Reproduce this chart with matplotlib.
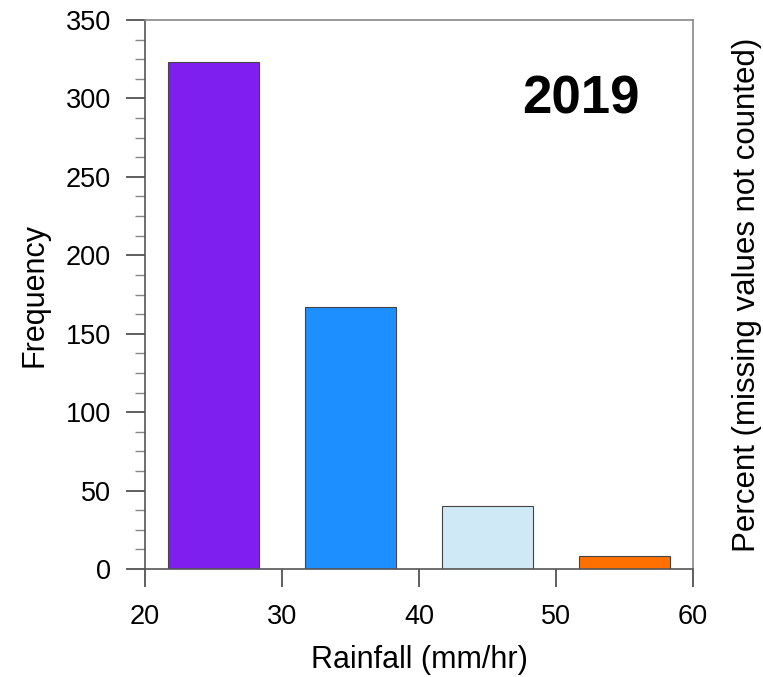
import matplotlib
matplotlib.use("Agg")
import matplotlib.pyplot as plt
from matplotlib.ticker import MultipleLocator

plt.rcParams['font.family'] = ['Liberation Sans', 'DejaVu Sans']

bin_centers = [25, 35, 45, 55]
frequency = [323, 167, 40, 8]
colors = ['#7F1FEF', '#1E8FFF', '#D0E9F6', '#FF7000']
year_label = "2019"

fig = plt.figure(figsize=(7.63, 6.77), dpi=100)
ax = fig.add_axes([145/763, 1-569/677, (693-145)/763, (569-20)/677])

ax.bar(bin_centers, frequency, width=6.67, color=colors, edgecolor='#444444', linewidth=0.8, zorder=2)

ax.set_xlim(20, 60)
ax.set_ylim(0, 350)
ax.xaxis.set_major_locator(MultipleLocator(10))
ax.yaxis.set_major_locator(MultipleLocator(50))
ax.yaxis.set_minor_locator(MultipleLocator(12.5))

gray = '#888888'
for s in ax.spines.values():
    s.set_color(gray)
    s.set_linewidth(1.2)
ax.spines['left'].set_color('#555555')
ax.spines['bottom'].set_color('#555555')

ax.tick_params(axis='y', which='major', direction='out', length=14, width=1.2, color='#444444', labelsize=19.5, pad=10.5)
ax.tick_params(axis='y', which='minor', direction='out', length=7, width=1.0, color=gray)
ax.tick_params(axis='x', which='major', direction='out', length=13, width=1.2, color='#444444', labelsize=19.5, pad=12)

ax.set_xlabel('Rainfall (mm/hr)', fontsize=22, labelpad=11)
ax.set_ylabel('Frequency', fontsize=22, labelpad=12)

ax2 = ax.twinx()
ax2.set_ylim(0, 350)
ax2.set_yticks([])
for s in ax2.spines.values():
    s.set_visible(False)
ax2.set_ylabel('Percent (missing values not counted)', fontsize=22.5, labelpad=28)

ax.text(0.795, 0.855, year_label, transform=ax.transAxes, fontsize=38, fontweight='bold',
        ha='center', va='center')

fig.savefig('out.png', dpi=100)
